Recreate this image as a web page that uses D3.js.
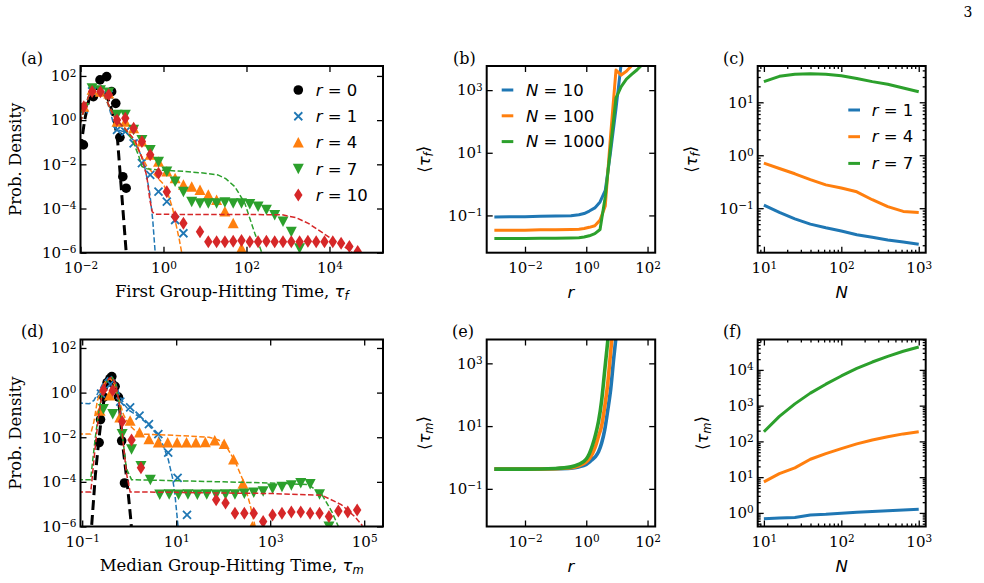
<!DOCTYPE html>
<html>
<head>
<meta charset="utf-8">
<script src="https://cdn.jsdelivr.net/npm/d3@7.9.0/dist/d3.min.js"></script>
<style>
  body { margin: 0; background: #fff; }
  svg { display: block; }
</style>
</head>
<body>
<script>
// Each pair is [log10 x, log10 y].

// ---- panel (a): first group-hitting time histograms + fits ----
const aR0 = [[-1.93,-1.12],[-1.69,1.06],[-1.53,1.82],[-1.37,1.97],[-1.25,1.29],[-1.15,0.76],[-1.05,-0.78],[-0.98,-2.56],[-0.90,-3.08]];
const aR1 = [[-1.92,0.5],[-1.72,1.3],[-1.52,1.35],[-1.32,1.15],[-1.12,-0.44],[-0.92,-0.52],[-0.72,-1.05],[-0.52,-1.95],[-0.32,-2.48],[-0.12,-3.24],[0.08,-3.69],[0.28,-4.52],[0.48,-5.12]];
const aR4 = [[-1.92,0.61],[-1.72,1.37],[-1.52,1.29],[-1.32,1.2],[-1.12,-0.07],[-0.92,-0.07],[-0.72,-0.37],[-0.52,-0.97],[-0.32,-1.57],[-0.12,-1.88],[0.08,-2.33],[0.28,-2.63],[0.48,-2.93],[0.68,-3.01],[0.88,-3.16],[1.08,-3.38],[1.28,-3.61],[1.48,-4.14],[1.68,-4.67],[1.88,-5.80]];
const aR7 = [[-1.92,0.55],[-1.72,1.44],[-1.52,1.35],[-1.32,1.25],[-1.12,0.24],[-0.92,0.24],[-0.72,-0.44],[-0.52,-0.90],[-0.32,-1.35],[-0.12,-1.88],[0.08,-2.33],[0.28,-2.78],[0.48,-3.24],[0.68,-3.69],[0.88,-3.76],[1.08,-3.76],[1.28,-3.76],[1.48,-3.72],[1.68,-3.76],[1.88,-3.76],[2.08,-3.80],[2.28,-3.91],[2.48,-4.06],[2.68,-4.29],[2.88,-4.59],[3.08,-5.05],[3.28,-5.80]];
const aR10 = [[-1.92,0.61],[-1.72,1.3],[-1.52,1.29],[-1.32,1.15],[-1.12,0.01],[-0.92,0.09],[-0.72,-0.37],[-0.52,-0.97],[-0.32,-1.57],[-0.12,-2.40],[0.08,-3.24],[0.28,-4.37],[0.48,-4.67],[0.88,-5.05],[1.08,-5.5],[1.28,-5.5],[1.48,-5.5],[1.68,-5.48],[1.88,-5.45],[2.08,-5.5],[2.28,-5.5],[2.48,-5.48],[2.68,-5.5],[2.88,-5.5],[3.08,-5.5],[3.28,-5.5],[3.48,-5.48],[3.68,-5.5],[3.88,-5.5],[4.08,-5.5],[4.28,-5.57],[4.48,-5.72],[4.68,-5.95]];

const aFit0 = [[-2.0,-1.3],[-1.9,0.0],[-1.8,0.9],[-1.65,1.4],[-1.5,1.5],[-1.38,1.15],[-1.27,0.6],[-1.2,0.1],[-1.11,-0.82],[-0.90,-5.95],[-0.87,-6.7]];
const aFit1 = [[-2.0,-0.1],[-1.9,0.6],[-1.8,1.1],[-1.65,1.35],[-1.5,1.35],[-1.4,1.05],[-1.3,0.5],[-1.2,-0.2],[-1.1,-0.45],[-0.9,-0.55],[-0.73,-0.9],[-0.6,-1.35],[-0.49,-1.8],[-0.4,-2.6],[-0.33,-3.31],[-0.26,-4.5],[-0.2,-6.0],[-0.18,-6.6]];
const aFit4 = [[-2.0,-0.1],[-1.9,0.6],[-1.8,1.1],[-1.65,1.35],[-1.5,1.35],[-1.4,1.05],[-1.3,0.55],[-1.15,0.0],[-0.95,-0.3],[-0.75,-0.8],[-0.55,-1.55],[-0.4,-2.1],[-0.2,-2.5],[0.0,-2.9],[0.12,-3.4],[0.22,-4.0],[0.3,-4.7],[0.38,-5.4],[0.44,-6.0],[0.46,-6.6]];
const aFit7 = [[-2.0,-0.1],[-1.9,0.6],[-1.8,1.1],[-1.65,1.35],[-1.5,1.35],[-1.4,1.05],[-1.3,0.6],[-1.15,0.05],[-0.95,-0.35],[-0.75,-0.9],[-0.6,-1.6],[-0.52,-2.1],[-0.4,-2.2],[0.0,-2.27],[0.5,-2.32],[1.0,-2.4],[1.31,-2.48],[1.5,-2.65],[1.72,-3.01],[1.96,-3.76],[2.2,-5.12],[2.37,-6.0],[2.42,-6.6]];
const aFit10 = [[-2.0,-0.1],[-1.9,0.6],[-1.8,1.1],[-1.65,1.35],[-1.5,1.35],[-1.4,1.05],[-1.3,0.6],[-1.15,0.05],[-0.95,-0.35],[-0.69,-0.9],[-0.53,-1.65],[-0.40,-2.56],[-0.33,-3.6],[-0.27,-4.15],[-0.2,-4.26],[0.5,-4.27],[1.5,-4.27],[2.85,-4.28],[3.2,-4.42],[3.49,-4.67],[3.97,-5.27],[4.53,-5.95],[4.6,-6.6]];

// ---- panel (d): median group-hitting time histograms + fits ----
const dR0 = [[-0.64,-2.24],[-0.61,-1.21],[-0.54,-0.2],[-0.47,0.45],[-0.41,0.63],[-0.37,0.72],[-0.30,0.28],[-0.23,-0.2],[-0.16,-2.16],[-0.10,-4.05]];
const dR1 = [[-0.6,-0.05],[-0.4,0.38],[-0.19,-0.4],[0.02,-0.66],[0.22,-1.03],[0.42,-1.41],[0.62,-1.86],[0.83,-2.69],[1.03,-3.82],[1.23,-5.48]];
const dR4 = [[-0.62,-0.81],[-0.42,-0.13],[-0.2,-1.11],[0.02,-1.26],[0.22,-1.79],[0.42,-2.09],[0.62,-2.24],[0.82,-2.24],[1.02,-2.24],[1.22,-2.24],[1.42,-2.24],[1.62,-2.22],[1.82,-2.15],[2.02,-2.3],[2.22,-3.0],[2.42,-4.08],[2.62,-6.0]];
const dR7 = [[-0.55,-0.73],[-0.35,-0.96],[-0.15,-1.86],[0.05,-2.54],[0.25,-3.29],[0.45,-3.9],[0.65,-4.57],[0.85,-4.55],[1.05,-4.57],[1.25,-4.55],[1.45,-4.57],[1.65,-4.55],[1.85,-4.57],[2.05,-4.55],[2.25,-4.55],[2.45,-4.52],[2.65,-4.48],[2.85,-4.42],[3.05,-4.3],[3.25,-4.22],[3.45,-4.15],[3.65,-4.05],[3.85,-4.1],[4.05,-4.55],[4.25,-6.0]];
const dR10 = [[-0.55,0.12],[-0.35,0.1],[-0.15,-1.3],[0.05,-2.12],[0.25,-3.37],[1.85,-4.8],[2.05,-4.95],[2.25,-5.41],[2.45,-5.41],[2.65,-5.41],[2.85,-5.78],[3.05,-5.48],[3.25,-5.41],[3.45,-5.35],[3.65,-5.35],[3.85,-5.41],[4.05,-5.41],[4.25,-5.55],[4.45,-5.3],[4.65,-5.35],[4.85,-5.26]];

const dFit0 = [[-0.83,-6.6],[-0.8,-6.0],[-0.72,-3.7],[-0.65,-2.2],[-0.58,-0.9],[-0.5,0.1],[-0.42,0.65],[-0.36,0.7],[-0.28,0.35],[-0.2,-0.8],[-0.14,-2.3],[-0.05,-3.9],[0.03,-5.6],[0.07,-6.6]];
const dFit1 = [[-1.1,-0.46],[-0.85,-0.5],[-0.75,-0.35],[-0.65,0.05],[-0.55,0.45],[-0.45,0.68],[-0.38,0.72],[-0.3,0.5],[-0.2,-0.15],[-0.1,-0.55],[0.0,-0.8],[0.23,-1.11],[0.41,-1.45],[0.59,-1.86],[0.72,-2.35],[0.83,-2.99],[0.92,-3.8],[0.97,-4.5],[1.04,-6.0],[1.07,-6.6]];
const dFit4 = [[-1.1,-1.86],[-0.82,-1.86],[-0.75,-1.3],[-0.68,-0.4],[-0.58,0.25],[-0.48,0.55],[-0.4,0.62],[-0.32,0.4],[-0.22,-0.3],[-0.12,-1.0],[0.0,-1.45],[0.15,-1.75],[0.3,-1.86],[0.8,-1.9],[1.3,-1.95],[1.7,-2.0],[1.9,-2.12],[2.04,-2.31],[2.25,-3.07],[2.43,-3.97],[2.57,-5.0],[2.68,-6.0],[2.72,-6.6]];
const dFit7 = [[-1.1,-3.9],[-0.82,-3.9],[-0.79,-3.3],[-0.72,-2.0],[-0.65,-0.9],[-0.58,-0.1],[-0.5,0.4],[-0.42,0.65],[-0.36,0.68],[-0.28,0.35],[-0.2,-0.7],[-0.14,-2.0],[-0.06,-3.4],[0.05,-3.9],[1.0,-3.95],[2.0,-4.0],[3.0,-4.05],[3.81,-4.12],[4.1,-4.57],[4.31,-5.33],[4.45,-6.0],[4.5,-6.6]];
const dFit10 = [[-1.1,-4.45],[-0.82,-4.45],[-0.8,-4.1],[-0.74,-2.8],[-0.66,-1.2],[-0.58,-0.1],[-0.5,0.4],[-0.42,0.65],[-0.36,0.68],[-0.28,0.35],[-0.2,-0.7],[-0.14,-2.0],[-0.06,-3.6],[0.02,-4.45],[1.0,-4.47],[2.0,-4.5],[3.0,-4.52],[4.1,-4.6],[4.52,-5.03],[4.80,-5.56],[4.95,-5.93],[5.0,-6.6]];

// ---- panel (b): <tau_f> vs r, for N = 10, 100, 1000 ----
const bLogR = [-3, -2.5, -2, -1.5, -1, -0.5, -0.24, -0.07, 0.10, 0.28, 0.45, 0.62, 0.79, 0.97, 1.14, 1.31, 1.48, 1.66, 1.83, 2.0];
const bN10   = [-1.05, -1.04, -1.04, -1.03, -1.02, -1.01, -0.98, -0.94, -0.86, -0.76, -0.57, -0.2, 1.0, 2.4, 3.85, 5.2, 6.0, 6.6, 7.1, 7.5];
const bN100  = [-1.47, -1.47, -1.47, -1.46, -1.46, -1.45, -1.44, -1.42, -1.38, -1.33, -1.15, -0.7, 1.5, 3.64, 3.48, 3.6, 3.78, 3.95, 4.2, 4.4];
const bN1000 = [-1.74, -1.74, -1.74, -1.73, -1.73, -1.72, -1.71, -1.69, -1.65, -1.58, -1.45, -0.4, 1.15, 2.75, 3.11, 3.35, 3.5, 3.65, 3.82, 3.97];

// ---- panel (e): <tau_m> vs r ----
const eLogR = [-3, -2, -1, -0.5, -0.25, 0, 0.1, 0.2, 0.3, 0.4, 0.5, 0.6, 0.7, 0.8, 0.9, 1.0, 1.1];
const eN10   = [-0.37, -0.37, -0.36, -0.34, -0.30, -0.22, -0.15, -0.06, 0.03, 0.18, 0.45, 0.87, 1.5, 2.2, 3.2, 4.1, 5.0];
const eN100  = [-0.37, -0.37, -0.36, -0.33, -0.27, -0.14, -0.04, 0.12, 0.35, 0.68, 1.0, 1.6, 2.35, 3.4, 4.5, 5.5, 6.3];
const eN1000 = [-0.37, -0.37, -0.35, -0.30, -0.22, -0.05, 0.12, 0.38, 0.72, 1.15, 1.8, 2.75, 3.7, 4.6, 5.5, 6.3, 7.0];

// ---- panels (c), (f): vs N, for r = 1, 4, 7 ----
const logN = [1.0, 1.2, 1.4, 1.6, 1.8, 2.0, 2.2, 2.4, 2.6, 2.8, 3.0];
const cR1 = [-0.94, -1.08, -1.20, -1.30, -1.37, -1.43, -1.50, -1.55, -1.60, -1.64, -1.68];
const cR4 = [-0.15, -0.25, -0.35, -0.46, -0.56, -0.62, -0.69, -0.84, -0.97, -1.06, -1.08];
const cR7 = [1.39, 1.49, 1.53, 1.54, 1.53, 1.50, 1.45, 1.39, 1.34, 1.27, 1.20];
const fR1 = [-0.16, -0.14, -0.13, -0.06, -0.04, -0.01, 0.02, 0.04, 0.06, 0.08, 0.10];
const fR4 = [0.87, 1.10, 1.26, 1.50, 1.66, 1.80, 1.93, 2.04, 2.13, 2.21, 2.27];
const fR7 = [2.27, 2.70, 3.05, 3.35, 3.60, 3.83, 4.04, 4.22, 4.38, 4.52, 4.64];

// legend / label text
const rValsA = ['0', '1', '4', '7', '10'];
const nVals = ['10', '100', '1000'];
const rValsC = ['1', '4', '7'];

const SERIF = 'DejaVu Serif', SANS = 'DejaVu Sans';
const tab = ['#1f77b4', '#ff7f0e', '#2ca02c', '#d62728'];
const histColors = ['#000000', tab[0], tab[1], tab[2], tab[3]];
const pow = v => Math.pow(10, v);

const W = 984, H = 583;
const svg = d3.select('body').append('svg').attr('width', W).attr('height', H);

let clipCount = 0;
function makePanel(p) {
  const x = d3.scaleLog().domain(p.xDom).range([p.left, p.right]);
  const y = d3.scaleLog().domain(p.yDom).range([p.bottom, p.top]);
  const g = svg.append('g');
  const id = 'clip' + (clipCount++);
  g.append('clipPath').attr('id', id).append('rect')
    .attr('x', p.left).attr('y', p.top)
    .attr('width', p.right - p.left).attr('height', p.bottom - p.top);
  const plot = g.append('g').attr('clip-path', `url(#${id})`);
  return { x, y, g, plot, p };
}

// tick label as 10^k
function powTen(d) {
  const e = Math.round(Math.log10(d));
  const t = d3.select(this).text(null).attr('fill', '#000');
  t.append('tspan').text('10');
  t.append('tspan').attr('dy', '-0.45em').attr('font-size', '0.7em')
    .text(e < 0 ? '\u2212' + (-e) : String(e));
}

function isPow(v) {
  const l = Math.log10(v);
  return Math.abs(l - Math.round(l)) < 1e-6;
}

function drawAxes(P) {
  const { x, y, g, p } = P;
  const ax = g.append('g');
  const addAxis = (gen, tr, vals, size, labels) => {
    const a = ax.append('g').attr('transform', tr)
      .call(gen.tickValues(vals).tickSize(size).tickSizeOuter(0)
        .tickPadding(labels ? (gen === null ? 0 : labels) : 0)
        .tickFormat(labels ? (d => d) : () => ''));
    a.select('.domain').remove();
    a.selectAll('.tick line').attr('stroke', '#000').attr('stroke-width', 1.3);
    a.attr('font-family', SERIF).attr('font-size', 15);
    if (labels) a.selectAll('text').each(powTen);
    return a;
  };
  addAxis(d3.axisBottom(x), `translate(0,${p.bottom})`, p.xTicks, -6, 10);
  addAxis(d3.axisTop(x), `translate(0,${p.top})`, p.xTicks, -6, 0);
  addAxis(d3.axisLeft(y), `translate(${p.left},0)`, p.yTicks, -6, 4);
  addAxis(d3.axisRight(y), `translate(${p.right},0)`, p.yTicks, -6, 0);
  if (p.minor) {
    const mx = x.ticks().filter(v => !isPow(v));
    const my = y.ticks().filter(v => !isPow(v));
    addAxis(d3.axisBottom(x), `translate(0,${p.bottom})`, mx, -3, 0);
    addAxis(d3.axisTop(x), `translate(0,${p.top})`, mx, -3, 0);
    addAxis(d3.axisLeft(y), `translate(${p.left},0)`, my, -3, 0);
    addAxis(d3.axisRight(y), `translate(${p.right},0)`, my, -3, 0);
  }
  g.append('rect').attr('x', p.left).attr('y', p.top)
    .attr('width', p.right - p.left).attr('height', p.bottom - p.top)
    .attr('fill', 'none').attr('stroke', '#000').attr('stroke-width', 2);
}

// marker shapes, roughly matplotlib o, x, ^, v, d
const markerPath = {
  o: d3.symbol(d3.symbolCircle, Math.PI * 4.8 * 4.8)(),
  x: 'M-4,-4L4,4M-4,4L4,-4',
  '^': 'M0,-5.5L5.5,5L-5.5,5Z',
  v: 'M0,5.5L5.5,-5L-5.5,-5Z',
  d: 'M0,-6.5L4.2,0L0,6.5L-4.2,0Z'
};
function drawMarker(sel, type, color) {
  if (type === 'x') {
    sel.attr('d', markerPath.x).attr('fill', 'none').attr('stroke', color).attr('stroke-width', 1.8);
  } else {
    sel.attr('d', markerPath[type]).attr('fill', color);
  }
}

function histPanel(P, series) {
  const { x, y, plot } = P;
  const line = d3.line().x(d => x(pow(d[0]))).y(d => y(pow(d[1])));
  series.forEach((s, i) => {
    plot.append('g').selectAll('path').data(s.pts).join('path')
      .attr('transform', d => `translate(${x(pow(d[0]))},${y(pow(d[1]))})`)
      .call(drawMarker, s.marker, histColors[i]);
    const black = i === 0;
    plot.append('path').datum(s.fit).attr('d', line)
      .attr('fill', 'none').attr('stroke', histColors[i])
      .attr('stroke-width', black ? 3 : 1.5)
      .attr('stroke-dasharray', black ? '10,5' : '5.5,2.4');
  });
}

function linePanel(P, xs, ys, curve, width) {
  const { x, y, plot } = P;
  const line = d3.line().x(d => x(pow(d[0]))).y(d => y(pow(d[1])));
  if (curve) line.curve(curve);
  ys.forEach((arr, i) => {
    plot.append('path').datum(xs.map((v, k) => [v, arr[k]])).attr('d', line)
      .attr('fill', 'none').attr('stroke', tab[i]).attr('stroke-width', width)
      .attr('stroke-linejoin', 'round');
  });
}

// rich text helpers
function mathSym(t, sym, sub) {
  t.append('tspan').attr('font-family', SANS).attr('font-style', 'italic').text(sym);
  t.append('tspan').attr('font-family', SANS).attr('font-style', 'italic')
    .attr('font-size', '0.7em').attr('dy', '0.3em').text(sub);
}
function xLabel(cx, by, build) {
  const t = svg.append('text').attr('x', cx).attr('y', by).attr('text-anchor', 'middle')
    .attr('font-family', SERIF).attr('font-size', 16.5).attr('fill', '#000');
  build(t);
}
function yLabel(bx, cy, build) {
  const t = svg.append('text').attr('transform', `translate(${bx},${cy}) rotate(-90)`)
    .attr('text-anchor', 'middle').attr('font-family', SERIF).attr('font-size', 16.5).attr('fill', '#000');
  build(t);
}
const tauLabel = sub => t => {
  t.append('tspan').attr('font-family', SANS).text('\u27E8');
  mathSym(t, '\u03C4', sub);
  t.append('tspan').attr('font-family', SANS).attr('dy', '-0.3em').text('\u27E9');
};
function panelLetter(x, y, s) {
  svg.append('text').attr('x', x).attr('y', y).attr('font-family', SERIF)
    .attr('font-size', 16).attr('fill', '#000').text(s);
}
function eqText(g, x, y, sym, val) {
  const t = g.append('text').attr('x', x).attr('y', y).attr('dy', '0.35em')
    .attr('font-family', SANS).attr('font-size', 16.5).attr('fill', '#000');
  t.append('tspan').attr('font-style', 'italic').text(sym);
  t.append('tspan').text(' = ' + val);
}

// ---- layout ----
const rows = [{ top: 66, bottom: 252.7 }, { top: 339.5, bottom: 526.5 }];
const cols = [{ left: 80.5, right: 383 }, { left: 486.7, right: 655.2 }, { left: 757.7, right: 925.7 }];

const pA = makePanel({ ...cols[0], ...rows[0], xDom: [1e-2, pow(5.29)], yDom: [1e-6, pow(2.45)],
  xTicks: [1e-2, 1, 1e2, 1e4], yTicks: [1e-6, 1e-4, 1e-2, 1, 1e2] });
const pB = makePanel({ ...cols[1], ...rows[0], xDom: [pow(-3.25), pow(2.25)], yDom: [pow(-2.19), pow(3.77)],
  xTicks: [1e-2, 1, 1e2], yTicks: [1e-1, 1e1, 1e3] });
const pC = makePanel({ ...cols[2], ...rows[0], xDom: [pow(0.92), pow(3.09)], yDom: [pow(-1.84), pow(1.685)],
  xTicks: [1e1, 1e2, 1e3], yTicks: [1e-1, 1, 1e1], minor: true });
const pD = makePanel({ ...cols[0], ...rows[1], xDom: [pow(-1.036), pow(5.4)], yDom: [1e-6, pow(2.38)],
  xTicks: [1e-1, 1e1, 1e3, 1e5], yTicks: [1e-6, 1e-4, 1e-2, 1, 1e2] });
const pE = makePanel({ ...cols[1], ...rows[1], xDom: [pow(-3.25), pow(2.25)], yDom: [pow(-2.2), pow(3.76)],
  xTicks: [1e-2, 1, 1e2], yTicks: [1e-1, 1e1, 1e3] });
const pF = makePanel({ ...cols[2], ...rows[1], xDom: [pow(0.92), pow(3.09)], yDom: [pow(-0.38), pow(4.85)],
  xTicks: [1e1, 1e2, 1e3], yTicks: [1, 1e1, 1e2, 1e3, 1e4], minor: true });

const markers = ['o', 'x', '^', 'v', 'd'];
histPanel(pA, [aR0, aR1, aR4, aR7, aR10].map((pts, i) => ({ pts, marker: markers[i], fit: [aFit0, aFit1, aFit4, aFit7, aFit10][i] })));
histPanel(pD, [dR0, dR1, dR4, dR7, dR10].map((pts, i) => ({ pts, marker: markers[i], fit: [dFit0, dFit1, dFit4, dFit7, dFit10][i] })));
linePanel(pB, bLogR, [bN10, bN100, bN1000], null, 3);
linePanel(pE, eLogR, [eN10, eN100, eN1000], d3.curveMonotoneX, 3.6);
linePanel(pC, logN, [cR1, cR4, cR7], null, 3);
linePanel(pF, logN, [fR1, fR4, fR7], null, 3);

[pA, pB, pC, pD, pE, pF].forEach(drawAxes);

// legends
const legA = pA.g.append('g');
rValsA.forEach((v, i) => {
  const yy = 90 + i * 26.25;
  legA.append('path').attr('transform', `translate(298.3,${yy})`).call(drawMarker, markers[i], histColors[i]);
  eqText(legA, 315.7, yy, 'r', v);
});
const legB = pB.g.append('g');
nVals.forEach((v, i) => {
  const yy = 90 + i * 25.8;
  legB.append('line').attr('x1', 501.7).attr('x2', 513.3).attr('y1', yy).attr('y2', yy)
    .attr('stroke', tab[i]).attr('stroke-width', 3);
  eqText(legB, 526, yy, 'N', v);
});
const legC = pC.g.append('g');
rValsC.forEach((v, i) => {
  const yy = 110 + i * 26.7;
  legC.append('line').attr('x1', 848.3).attr('x2', 860).attr('y1', yy).attr('y2', yy)
    .attr('stroke', tab[i]).attr('stroke-width', 3);
  eqText(legC, 871.7, yy, 'r', v);
});

// axis labels
xLabel(231.7, 297, t => { t.append('tspan').text('First Group-Hitting Time, '); mathSym(t, '\u03C4', 'f'); });
xLabel(231.7, 571, t => { t.append('tspan').text('Median Group-Hitting Time, '); mathSym(t, '\u03C4', 'm'); });
[[571, 298], [841.7, 298], [571, 571.5], [841.7, 571.5]].forEach(([cx, by], i) => {
  xLabel(cx, by, t => t.append('tspan').attr('font-family', SANS).attr('font-style', 'italic').text(i % 2 ? 'N' : 'r'));
});
yLabel(21, 159.3, t => t.append('tspan').text('Prob. Density'));
yLabel(21, 433, t => t.append('tspan').text('Prob. Density'));
yLabel(430, 159.3, tauLabel('f'));
yLabel(697, 159.3, tauLabel('f'));
yLabel(430, 433, tauLabel('m'));
yLabel(708, 433, tauLabel('m'));

panelLetter(21, 63.5, '(a)');
panelLetter(453, 63.5, '(b)');
panelLetter(723, 63.5, '(c)');
panelLetter(21, 337, '(d)');
panelLetter(452, 337, '(e)');
panelLetter(723, 337, '(f)');

svg.append('text').attr('x', 968).attr('y', 17).attr('text-anchor', 'middle')
  .attr('font-family', SERIF).attr('font-size', 14).attr('fill', '#000').text('3');
</script>
</body>
</html>
